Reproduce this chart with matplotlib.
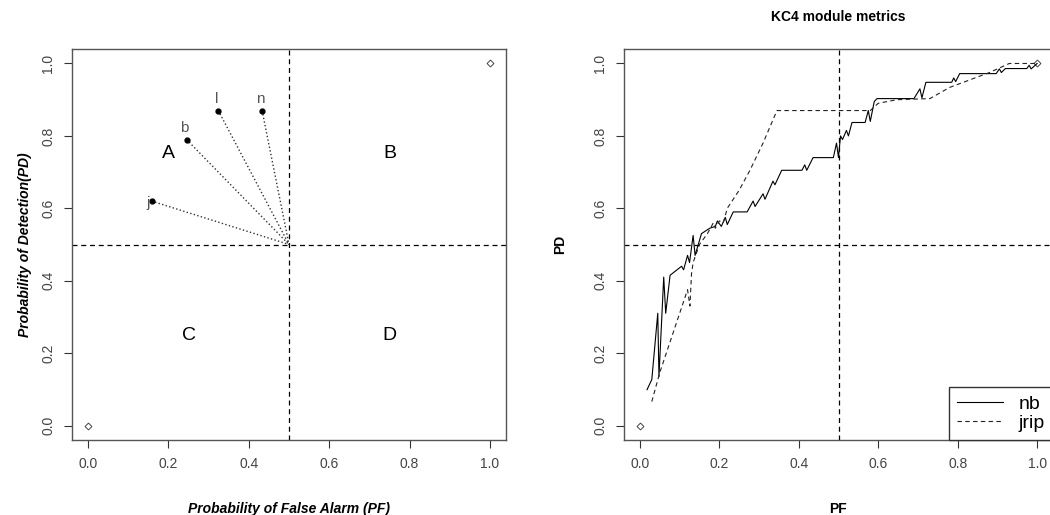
import matplotlib.pyplot as plt

plt.rcParams['font.family'] = ['Liberation Sans', 'DejaVu Sans']

# left panel: learners plotted in PF/PD space
pt_names = ['j', 'b', 'l', 'n']
pt_pf = [0.158, 0.245, 0.324, 0.433]
pt_pd = [0.62, 0.79, 0.87, 0.87]
region_names = ['A', 'B', 'C', 'D']
region_pf = [0.2, 0.75, 0.25, 0.75]
region_pd = [0.75, 0.75, 0.25, 0.25]
corner_pf = [0.0, 1.0]
corner_pd = [0.0, 1.0]

# right panel: KC4 curves
nb_pf = [0.018, 0.03, 0.045, 0.048, 0.06, 0.065, 0.076, 0.105, 0.11, 0.12, 0.125,
         0.134, 0.139, 0.155, 0.176, 0.19, 0.195, 0.205, 0.215, 0.22, 0.235, 0.27,
         0.285, 0.29, 0.31, 0.315, 0.335, 0.34, 0.357, 0.408, 0.415, 0.42, 0.436,
         0.487, 0.495, 0.5, 0.505, 0.51, 0.52, 0.525, 0.534, 0.567, 0.575, 0.58,
         0.59, 0.597, 0.69, 0.705, 0.71, 0.72, 0.785, 0.79, 0.795, 0.805, 0.897,
         0.905, 0.91, 0.92, 0.974, 0.98, 0.985, 1.0]
nb_pd = [0.099, 0.127, 0.31, 0.135, 0.41, 0.31, 0.415, 0.44, 0.43, 0.47, 0.45,
         0.525, 0.47, 0.53, 0.545, 0.55, 0.565, 0.55, 0.575, 0.555, 0.59, 0.59,
         0.62, 0.605, 0.64, 0.625, 0.675, 0.665, 0.705, 0.705, 0.72, 0.705, 0.74,
         0.74, 0.78, 0.74, 0.8, 0.79, 0.815, 0.8, 0.837, 0.837, 0.87, 0.84,
         0.895, 0.903, 0.903, 0.93, 0.905, 0.948, 0.948, 0.96, 0.95, 0.972, 0.972,
         0.985, 0.975, 0.986, 0.986, 0.995, 0.985, 1.0]
jrip_pf = [0.03, 0.05, 0.12, 0.126, 0.13, 0.134, 0.15, 0.17, 0.18, 0.185, 0.19,
           0.2, 0.21, 0.22, 0.25, 0.277, 0.31, 0.345, 0.58, 0.6, 0.647, 0.73,
           0.78, 0.88, 0.93, 1.0]
jrip_pd = [0.066, 0.146, 0.375, 0.33, 0.42, 0.45, 0.5, 0.53, 0.55, 0.56, 0.545,
           0.565, 0.56, 0.6, 0.65, 0.705, 0.78, 0.87, 0.87, 0.89, 0.9, 0.903,
           0.934, 0.975, 1.0, 1.0]

spine_col = '#555555'
tick_col = '#444444'

fig = plt.figure(figsize=(10.5, 5.15), dpi=100)
ax1 = fig.add_axes([72 / 1050, 75 / 515, 434 / 1050, 391 / 515])
ax2 = fig.add_axes([624 / 1050, 75 / 515, 429 / 1050, 391 / 515])

for ax in (ax1, ax2):
    ax.set_xlim(-0.04, 1.04)
    ax.set_ylim(-0.04, 1.04)
    ax.set_xticks([0, 0.2, 0.4, 0.6, 0.8, 1.0])
    ax.set_yticks([0, 0.2, 0.4, 0.6, 0.8, 1.0])
    ax.set_xticklabels(['0.0', '0.2', '0.4', '0.6', '0.8', '1.0'])
    ax.set_yticklabels(['0.0', '0.2', '0.4', '0.6', '0.8', '1.0'])
    ax.tick_params(direction='out', length=6, width=0.8, color='#333333',
                   labelcolor=tick_col, labelsize=10, pad=6)
    plt.setp(ax.get_yticklabels(), rotation=90, va='center')
    for s in ax.spines.values():
        s.set_color(spine_col)
        s.set_linewidth(1.0)
    ax.axvline(0.5, color='black', lw=0.9, ls=(0, (4, 3)))
    ax.axhline(0.5, color='black', lw=0.9, ls=(0, (4, 3)))
    ax.plot(corner_pf, corner_pd, ls='none', marker='D', ms=3.5,
            mfc='white', mec='#444444', mew=0.7)

# left panel
for i in range(len(pt_names)):
    ax1.plot([pt_pf[i], 0.5], [pt_pd[i], 0.5], ls=':', color='#333333', lw=1.0)
ax1.plot(pt_pf, pt_pd, ls='none', marker='o', ms=3.5, color='black')
for i in range(len(pt_names)):
    if pt_names[i] == 'j':
        ax1.text(pt_pf[i] - 0.005, pt_pd[i] - 0.005, pt_names[i], ha='right',
                 va='center', fontsize=11, color='#555555')
    else:
        ax1.text(pt_pf[i] - 0.005, pt_pd[i] + 0.012, pt_names[i], ha='center',
                 va='bottom', fontsize=11, color='#555555')
for i in range(len(region_names)):
    ax1.text(region_pf[i], region_pd[i], region_names[i], ha='center',
             va='center', fontsize=14, color='black')
ax1.set_xlabel('Probability of False Alarm (PF)', fontsize=10,
               fontweight='bold', fontstyle='italic')
ax1.set_ylabel('Probability of Detection(PD)', fontsize=10,
               fontweight='bold', fontstyle='italic')
ax1.xaxis.set_label_coords(0.5, -0.159)
ax1.yaxis.set_label_coords(-0.092, 0.5)

# right panel
ax2.plot(nb_pf, nb_pd, color='black', lw=0.8, label='nb')
ax2.plot(jrip_pf, jrip_pd, color='#222222', lw=0.8, ls=(0, (4, 3)), label='jrip')
ax2.set_title('KC4 module metrics', fontsize=10, fontweight='bold', pad=20)
ax2.set_xlabel('PF', fontsize=10, fontweight='bold')
ax2.set_ylabel('PD', fontsize=10, fontweight='bold')
ax2.xaxis.set_label_coords(0.5, -0.159)
ax2.yaxis.set_label_coords(-0.133, 0.5)
leg = ax2.legend(loc='lower right', borderaxespad=0, fancybox=False,
                 fontsize=14, handlelength=2.4, handletextpad=0.8,
                 labelspacing=0.1, borderpad=0.4, framealpha=1)
leg.get_frame().set_edgecolor('#333333')
leg.get_frame().set_linewidth(1.0)

fig.savefig('out.png', dpi=100)
